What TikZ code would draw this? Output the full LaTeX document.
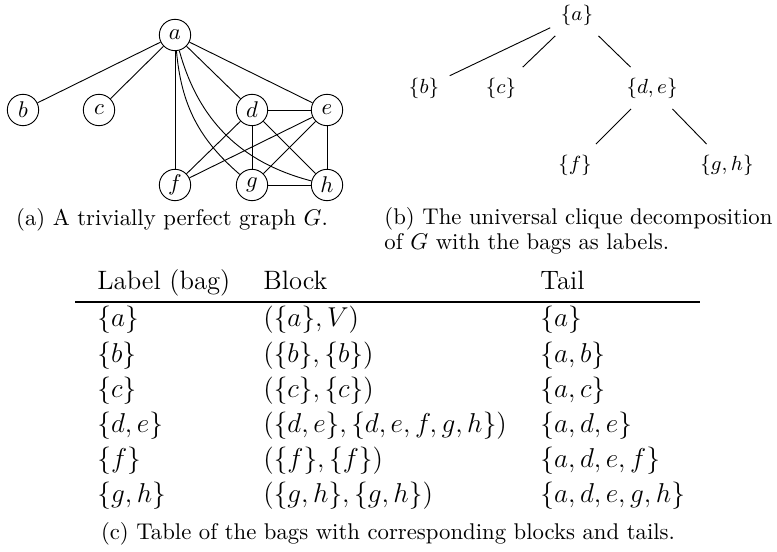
\documentclass[tikz,border=0pt]{standalone}
\usepackage{tikz}

\begin{document}
\begin{tikzpicture}[x=0.44pt, y=-0.44pt,
  vertex/.style={draw, circle, minimum size=13.8pt, inner sep=0pt},
  bag/.style={inner sep=4.5pt, font=\fontsize{9.3}{11}\selectfont},
  cell/.style={anchor=base west, inner sep=0pt, font=\fontsize{11.7}{14}\selectfont},
  capt/.style={inner sep=0pt, font=\fontsize{10}{12}\selectfont}]

\useasboundingbox (0,0) rectangle (777,552);

% (a) the graph
\node[vertex] (a) at (175,35) {$a$};
\node[vertex] (b) at (23,110) {$b$};
\node[vertex] (c) at (99,110) {$c$};
\node[vertex] (d) at (252,110) {$d$};
\node[vertex] (e) at (327,110) {$e$};
\node[vertex] (f) at (175,185) {$f$};
\node[vertex] (g) at (252,185) {$g$};
\node[vertex] (h) at (327,185) {$h$};

\draw (a)--(b);
\draw (a)--(c);
\draw (a)--(d);
\draw (a)--(e);
\draw (a)--(f);
\draw (a) to[bend right=22] (g);
\draw (a) to[bend right=30] (h);
\draw (d)--(e);
\draw (d)--(f);
\draw (d)--(g);
\draw (d)--(h);
\draw (e)--(f);
\draw (e)--(g);
\draw (e)--(h);
\draw (g)--(h);

\node[capt, anchor=base] (capa) at (172,226) {(a) A trivially perfect graph $G$.};

% (b) the decomposition tree
\node[bag] (ta) at (577,15) {$\{a\}$};
\node[bag] (tb) at (424,88) {$\{b\}$};
\node[bag] (tc) at (501,88) {$\{c\}$};
\node[bag] (tde) at (652,88) {$\{d,e\}$};
\node[bag] (tf) at (575,165) {$\{f\}$};
\node[bag] (tgh) at (727,165) {$\{g,h\}$};

\draw (ta)--(tb);
\draw (ta)--(tc);
\draw (ta)--(tde);
\draw (tde)--(tf);
\draw (tde)--(tgh);

\node[capt, anchor=base west] (capb) at (384,225) {(b) The universal clique decomposition};
\node[capt, anchor=base west] (capbb) at (384,250) {of $G$ with the bags as labels.};

% (c) the table
\node[cell] (h1) at (97,290) {Label (bag)};
\node[cell] (h2) at (263,290) {Block};
\node[cell] (h3) at (540,290) {Tail};

\coordinate (rl) at (75,302);
\coordinate (rr) at (700,302);
\draw[line width=0.8pt] (rl)--(rr);

\node[cell] (l1) at (97,327) {$\{a\}$};
\node[cell] (b1) at (263,327) {$(\{a\},V)$};
\node[cell] (t1) at (540,327) {$\{a\}$};
\node[cell] (l2) at (97,362) {$\{b\}$};
\node[cell] (b2) at (263,362) {$(\{b\},\{b\})$};
\node[cell] (t2) at (540,362) {$\{a,b\}$};
\node[cell] (l3) at (97,397) {$\{c\}$};
\node[cell] (b3) at (263,397) {$(\{c\},\{c\})$};
\node[cell] (t3) at (540,397) {$\{a,c\}$};
\node[cell] (l4) at (97,432) {$\{d,e\}$};
\node[cell] (b4) at (263,432) {$(\{d,e\},\{d,e,f,g,h\})$};
\node[cell] (t4) at (540,432) {$\{a,d,e\}$};
\node[cell] (l5) at (97,467) {$\{f\}$};
\node[cell] (b5) at (263,467) {$(\{f\},\{f\})$};
\node[cell] (t5) at (540,467) {$\{a,d,e,f\}$};
\node[cell] (l6) at (97,502) {$\{g,h\}$};
\node[cell] (b6) at (263,502) {$(\{g,h\},\{g,h\})$};
\node[cell] (t6) at (540,502) {$\{a,d,e,g,h\}$};

\node[capt, anchor=base] (capc) at (388,539) {(c) Table of the bags with corresponding blocks and tails.};

\end{tikzpicture}
\end{document}
